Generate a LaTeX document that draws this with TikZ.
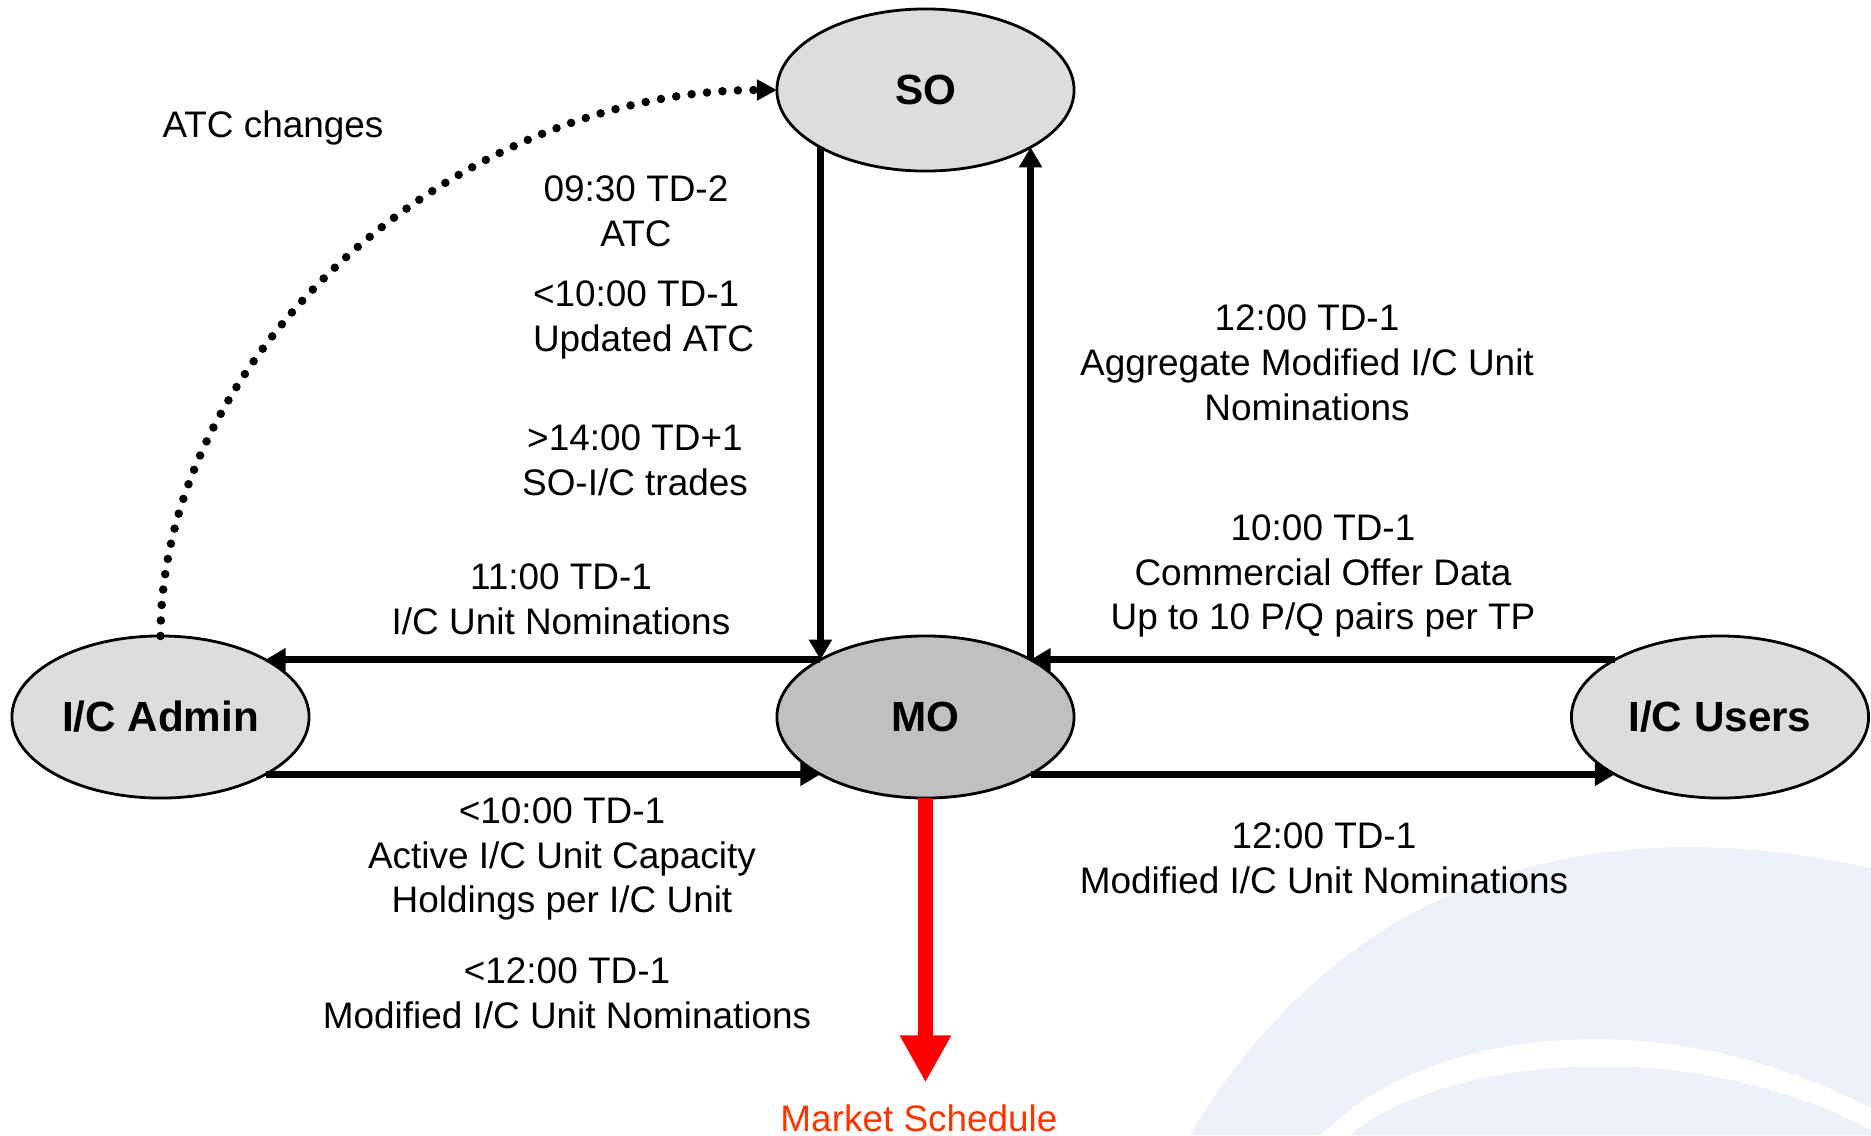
\documentclass[tikz,border=0pt]{standalone}
\usepackage{fontspec}
\setmainfont{Liberation Sans}
\usepackage{xcolor}
\definecolor{swoosh}{RGB}{238,241,249}
\definecolor{lightgrey}{RGB}{221,221,221}
\definecolor{midgrey}{RGB}{192,192,192}
\definecolor{schedred}{RGB}{255,51,0}
\usepackage{tikz}
\usetikzlibrary{shapes.geometric}
\usetikzlibrary{arrows.meta}

\begin{document}
\begin{tikzpicture}[x=0.01cm,y=-0.01cm,every node/.style={font=\fontsize{10.5}{12.75}\selectfont,align=center,inner sep=0pt,outer sep=0pt},
party/.style={ellipse,draw,line width=0.8pt,minimum width=2.97cm,minimum height=1.62cm,fill=lightgrey,font=\fontsize{12}{14}\selectfont\bfseries},
flow/.style={line width=0.07cm,-{Triangle[length=0.2cm,width=0.22cm]}},
change/.style={line width=0.085cm,line cap=round,dash pattern=on 0pt off 0.155cm,-{Triangle[length=0.2cm,width=0.2cm]}},
output/.style={line width=0.14cm,draw=red,-{Triangle[length=0.47cm,width=0.48cm,fill=red]}}]
\useasboundingbox (0,0) rectangle (1871,1135);
\fill[swoosh] (1190,1135) .. controls (1330,900) and (1560,800) .. (1871,868) -- (1871,1135) -- cycle;
\fill[white] (1322,1135) .. controls (1410,1040) and (1640,990) .. (1871,1108) -- (1871,1135) -- cycle;
\fill[swoosh] (1350,1135) .. controls (1440,1060) and (1680,1030) .. (1871,1130) -- (1871,1135) -- cycle;
\node[party] (so) at (925.5,90) {SO};
\node[party,fill=midgrey] (mo) at (925.5,717) {MO};
\node[party] (adm) at (160.5,717) {I/C Admin};
\node[party] (usr) at (1720,717) {I/C Users};
\node (atcchg) at (273,128) {ATC changes};
\node (atc) at (636,211) {09:30 TD-2\\ATC};
\node[align=left] (updatc) at (533,320) [anchor=west] {<10:00 TD-1\\Updated ATC};
\node (trades) at (635,460) {>14:00 TD+1\\SO-I/C trades};
\node (nomadm) at (561,599) {11:00 TD-1\\I/C Unit Nominations};
\node (capadm) at (562,859) {<10:00 TD-1\\Active I/C Unit Capacity\\Holdings per I/C Unit};
\node (modadm) at (567,993) {<12:00 TD-1\\Modified I/C Unit Nominations};
\node (aggnom) at (1307,363) {12:00 TD-1\\Aggregate Modified I/C Unit\\Nominations};
\node (offer) at (1323,576) {10:00 TD-1\\Commercial Offer Data\\Up to 10 P/Q pairs per TP};
\node (modusr) at (1324,858) {12:00 TD-1\\Modified I/C Unit Nominations};
\node[text=schedred] (sched) at (919,1118) {Market Schedule};
\draw[flow] (so.south west) -- (mo.north west);
\draw[flow] (mo.north east) -- (so.south east);
\draw[flow] (mo.north west) -- (adm.north east);
\draw[flow] (adm.south east) -- (mo.south west);
\draw[flow] (usr.north west) -- (mo.north east);
\draw[flow] (mo.south east) -- (usr.south west);
\draw[output,shorten >=0.22cm] (mo.south) -- (mo.south |- sched.north);
\draw[change] (adm.north) .. controls (161,350) and (460,90) .. (so.west);
\end{tikzpicture}
\end{document}
